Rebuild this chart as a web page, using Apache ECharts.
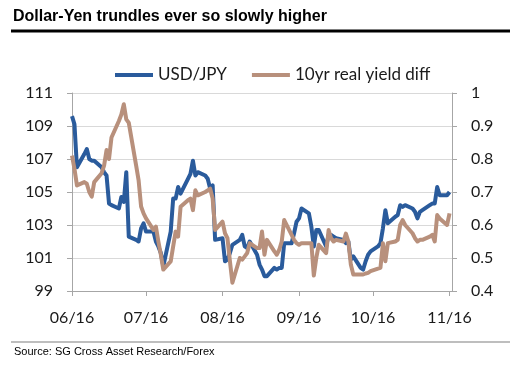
<!DOCTYPE html>
<html><head><meta charset="utf-8">
<script src="https://cdn.jsdelivr.net/npm/echarts@6/dist/echarts.min.js"></script>
<style>html,body{margin:0;padding:0;background:#fff}#c{width:510px;height:368px}</style>
</head><body><div id="c"></div>
<script>
const chartTitle = 'Dollar-Yen trundles ever so slowly higher';
const sourceText = 'Source: SG Cross Asset Research/Forex';
const seriesNames = ['USD/JPY', '10yr real yield diff'];

// USD/JPY, one value per trading day, by month
const usdJun = [109.6, 109.1, 106.5, 107.3, 107.6, 107.0, 106.9, 106.9, 106.5, 106.2, 106.0, 104.3, 104.2, 104.0, 104.7, 104.4, 106.2, 102.3, 102.1, 102.0, 102.8, 103.1];
const usdJul = [102.6, 102.6, 102.0, 101.7, 101.3, 100.5, 102.6, 104.6, 104.6, 105.3, 104.9, 105.8, 106.1, 106.9, 106.0, 106.2, 106.0, 105.8, 105.2, 105.4, 102.1];
const usdAug = [102.2, 100.8, 100.9, 101.3, 101.8, 102.1, 102.4, 101.7, 101.6, 102.0, 101.2, 100.6, 100.3, 99.9, 99.9, 100.4, 100.3, 100.4, 100.4, 101.9, 101.9, 102.5, 103.2];
const usdSep = [103.4, 104.0, 103.7, 102.9, 101.7, 102.7, 102.7, 101.7, 102.4, 102.4, 102.3, 102.2, 102.1, 101.9, 102.0, 100.9, 101.1, 100.4, 100.3, 100.8, 101.2, 101.4];
const usdOct = [101.7, 101.9, 102.8, 103.9, 103.1, 103.5, 103.6, 104.2, 104.1, 104.2, 104.0, 103.8, 103.4, 103.8, 103.9, 104.2, 104.3, 104.3, 105.3, 104.8, 104.8];
const usdNov = [105.0];

// 10yr real yield differential, one value per trading day, by month
const yldJun = [0.81, 0.77, 0.72, 0.73, 0.725, 0.70, 0.686, 0.73, 0.757, 0.78, 0.827, 0.80, 0.865, 0.915, 0.935, 0.966, 0.92, 0.91, 0.78, 0.735, 0.656, 0.635];
const yldJul = [0.62, 0.585, 0.595, 0.55, 0.51, 0.465, 0.49, 0.535, 0.58, 0.565, 0.655, 0.675, 0.68, 0.645, 0.705, 0.69, 0.70, 0.705, 0.71, 0.68, 0.585];
const yldAug = [0.61, 0.575, 0.56, 0.49, 0.425, 0.50, 0.495, 0.505, 0.515, 0.545, 0.53, 0.53, 0.58, 0.51, 0.555, 0.52, 0.51, 0.525, 0.55, 0.615, 0.57, 0.555, 0.545];
const yldSep = [0.54, 0.545, 0.545, 0.545, 0.447, 0.50, 0.54, 0.515, 0.585, 0.56, 0.55, 0.555, 0.55, 0.574, 0.55, 0.48, 0.45, 0.45, 0.45, 0.453, 0.455, 0.46];
const yldOct = [0.468, 0.47, 0.545, 0.49, 0.545, 0.55, 0.555, 0.60, 0.615, 0.60, 0.575, 0.56, 0.55, 0.555, 0.555, 0.565, 0.57, 0.55, 0.63, 0.62, 0.60];
const yldNov = [0.635];

const usdjpy = [].concat(usdJun, usdJul, usdAug, usdSep, usdOct, usdNov);
const yieldDiff = [].concat(yldJun, yldJul, yldAug, yldSep, yldOct, yldNov);

// calendar categories (date axis) and trading days
const DAY = 86400000;
const t0 = Date.UTC(2016, 5, 1), tEnd = Date.UTC(2016, 10, 2), tLast = Date.UTC(2016, 10, 1);
const categories = [], tradingDays = [];
for (let t = t0; t <= tEnd; t += DAY) {
  const d = new Date(t), s = d.toISOString().slice(0, 10);
  categories.push(s);
  const wd = d.getUTCDay();
  if (t <= tLast && wd !== 0 && wd !== 6) tradingDays.push(s);
}
const isMonthStart = (i, v) => v.slice(8, 10) === '01';

const FONT = 'Lato';
const chart = echarts.init(document.getElementById('c'), null, {renderer: 'canvas'});
chart.setOption({
  animation: false,
  backgroundColor: '#fff',
  grid: {left: 72, right: 58, top: 93, bottom: 77, containLabel: false},
  legend: {
    left: 110, top: 61,
    itemWidth: 38, itemHeight: 4, itemGap: 25,
    icon: 'rect',
    textStyle: {fontFamily: FONT, fontSize: 17, color: '#1a1a1a', lineHeight: 18},
    data: seriesNames
  },
  xAxis: {
    type: 'category', data: categories, boundaryGap: false,
    axisLine: {lineStyle: {color: '#a6a6a6', width: 1}},
    axisTick: {interval: isMonthStart, length: 5, lineStyle: {color: '#a6a6a6'}},
    axisLabel: {interval: isMonthStart, margin: 19, fontFamily: FONT, fontSize: 16, color: '#1a1a1a',
      formatter: v => v.slice(5, 7) + '/' + v.slice(2, 4)},
    splitLine: {show: false}
  },
  yAxis: [{
    type: 'value', min: 99, max: 111, interval: 2, position: 'left',
    axisLine: {show: true, lineStyle: {color: '#a6a6a6'}},
    axisTick: {show: true, length: 5, lineStyle: {color: '#a6a6a6'}},
    axisLabel: {margin: 19, fontFamily: FONT, fontSize: 16, color: '#1a1a1a'},
    splitLine: {lineStyle: {color: '#d9d9d9', width: 1}}
  }, {
    type: 'value', min: 0.4, max: 1.0, interval: 0.1, position: 'right',
    axisLine: {show: true, lineStyle: {color: '#a6a6a6'}},
    axisTick: {show: true, length: 5, lineStyle: {color: '#a6a6a6'}},
    axisLabel: {margin: 19, fontFamily: FONT, fontSize: 16, color: '#1a1a1a',
      formatter: v => String(Math.round(v * 10) / 10)},
    splitLine: {show: false}
  }],
  series: [{
    name: seriesNames[0], type: 'line', yAxisIndex: 0, showSymbol: false, symbol: 'none',
    data: tradingDays.map((d, i) => [d, usdjpy[i]]),
    lineStyle: {color: '#2a5b9c', width: 4, join: 'round'},
    itemStyle: {color: '#2a5b9c'}, z: 2
  }, {
    name: seriesNames[1], type: 'line', yAxisIndex: 1, showSymbol: false, symbol: 'none',
    data: tradingDays.map((d, i) => [d, yieldDiff[i]]),
    lineStyle: {color: '#b8907c', width: 4, join: 'round'},
    itemStyle: {color: '#b8907c'}, z: 3
  }],
  graphic: [
    {type: 'text', left: 13, top: 9, style: {text: chartTitle, font: 'bold 16px "Liberation Sans", Arial, sans-serif', fill: '#000'}},
    {type: 'rect', shape: {x: 11, y: 29.5, width: 499, height: 3}, style: {fill: '#000'}},
    {type: 'rect', shape: {x: 11, y: 341.5, width: 499, height: 1}, style: {fill: '#7f7f7f'}},
    {type: 'text', left: 14, top: 346, style: {text: sourceText, font: '11px "Liberation Sans", Arial, sans-serif', fill: '#000'}}
  ]
});
</script></body></html>
